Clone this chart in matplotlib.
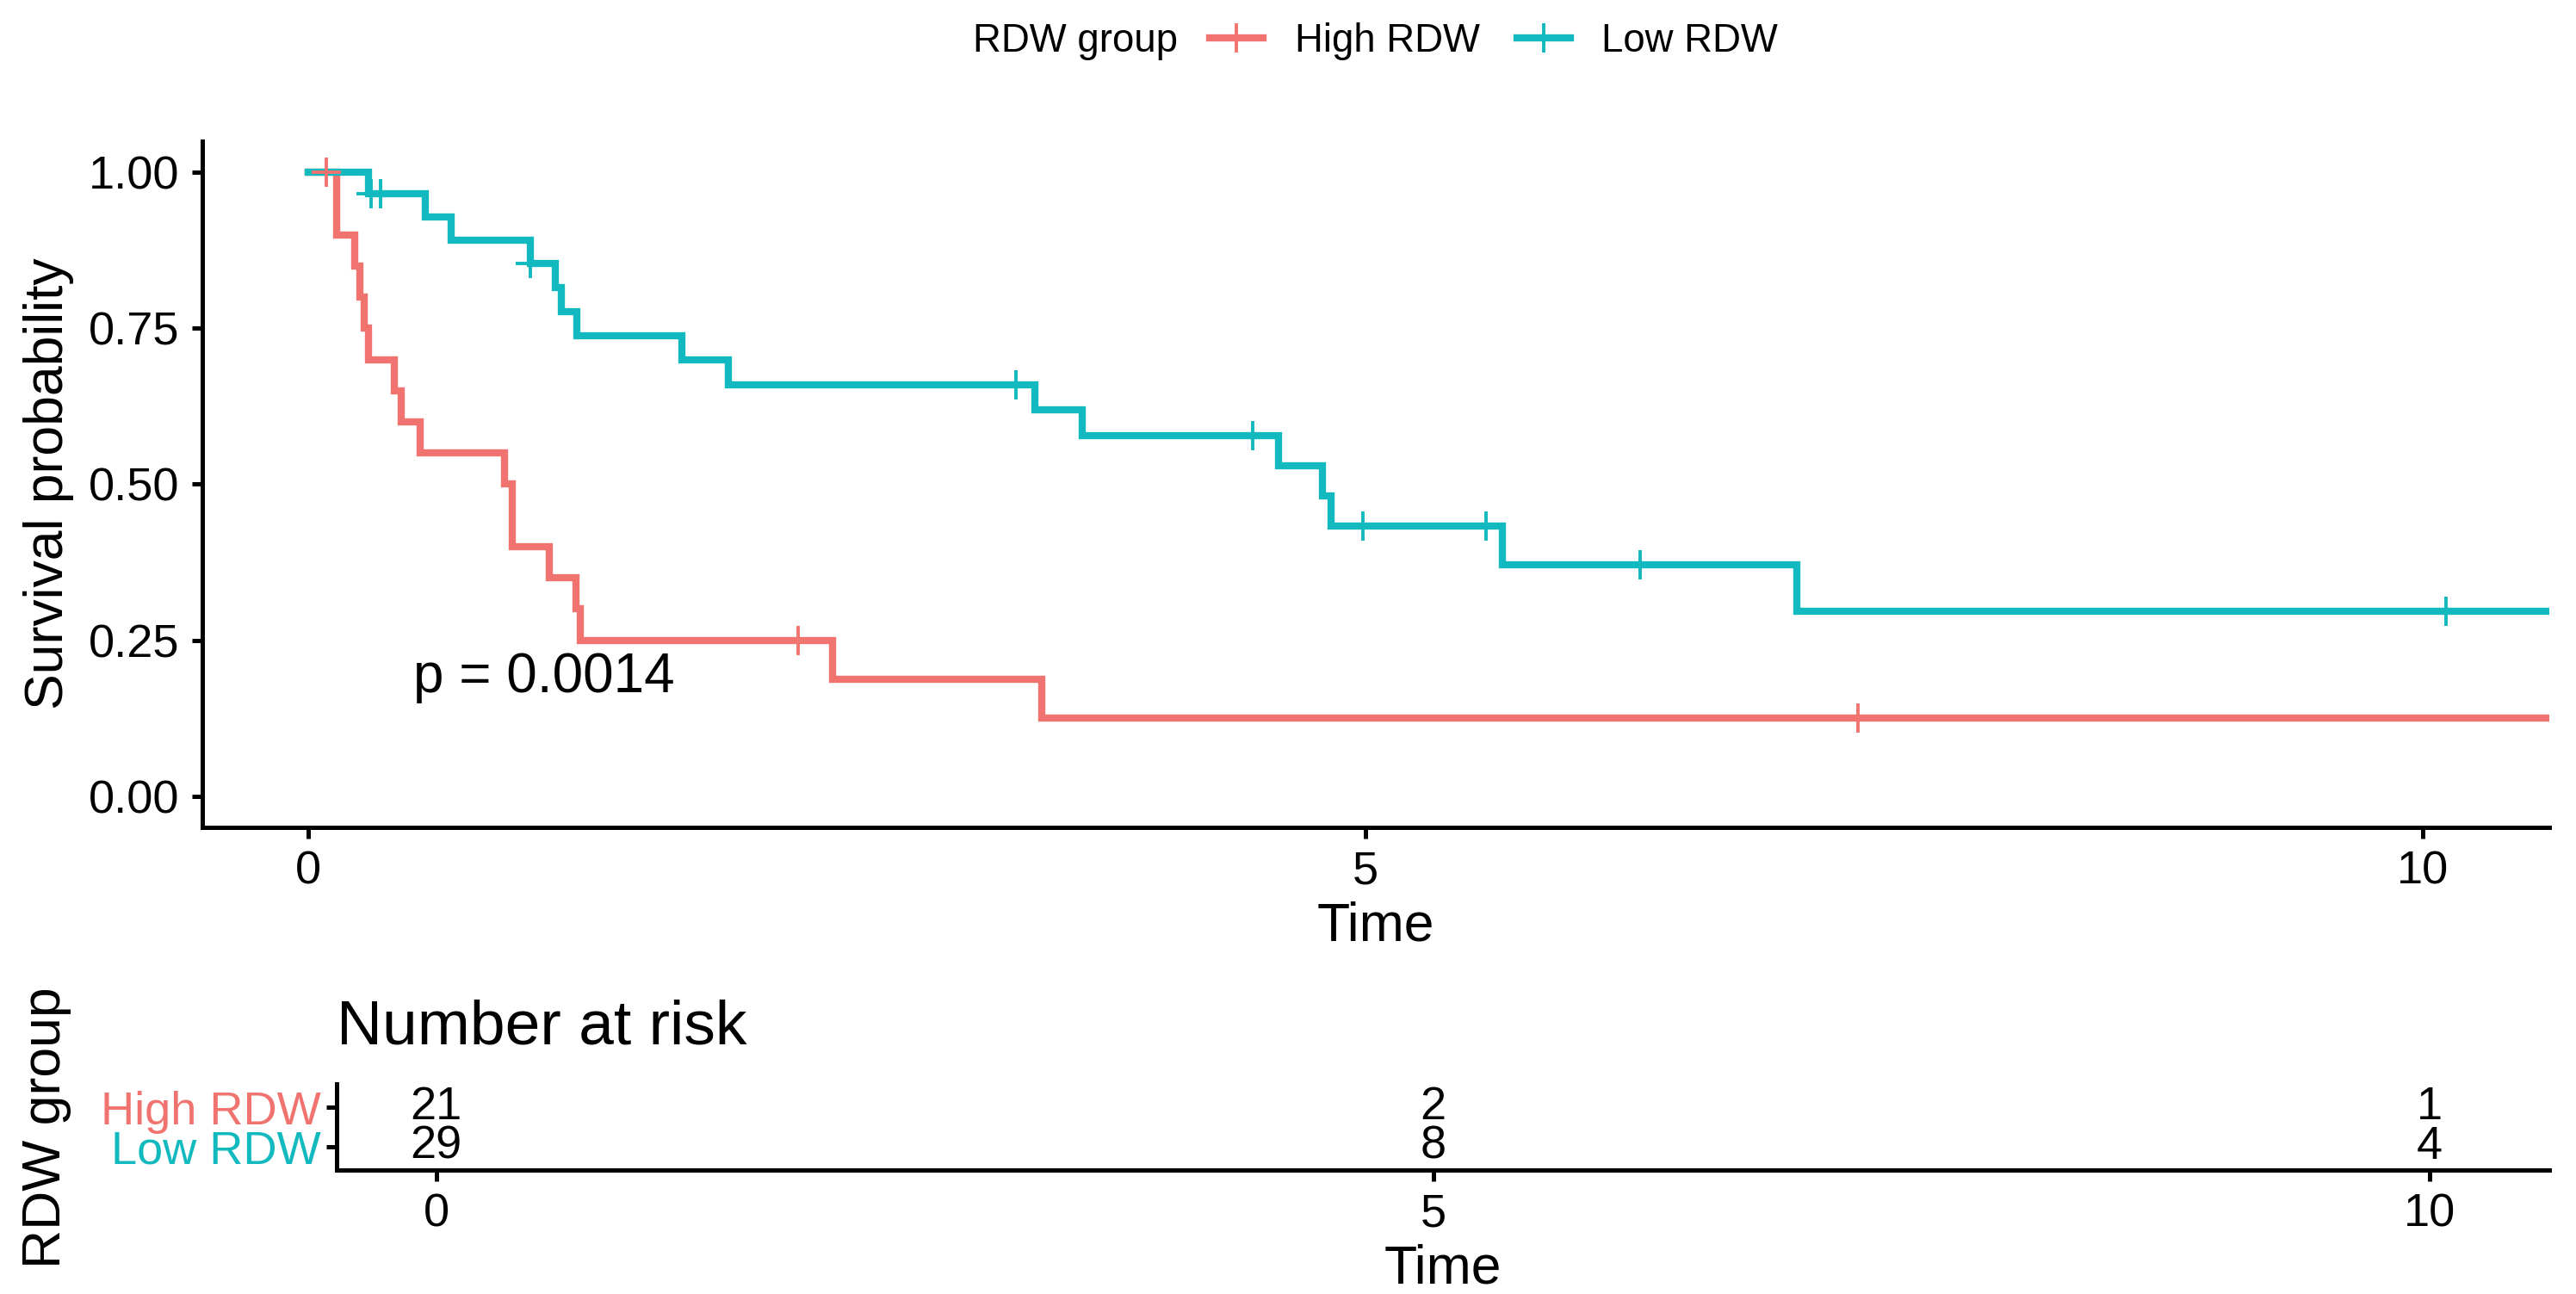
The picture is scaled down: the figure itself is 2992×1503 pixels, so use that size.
import matplotlib
matplotlib.use("Agg")
import matplotlib.pyplot as plt
from matplotlib.lines import Line2D

plt.rcParams['font.family'] = ['Liberation Sans', 'DejaVu Sans']

# colours of the two groups
RED = "#F0736F"
TEAL = "#12B9BE"

# Kaplan-Meier steps
high_time = [0, 0.134, 0.222, 0.245, 0.265, 0.285, 0.41, 0.44, 0.53, 0.93, 0.967,
             1.14, 1.266, 1.29, 2.48, 3.47, 10.6]
high_surv = [1.0, 0.90, 0.85, 0.80, 0.75, 0.70, 0.65, 0.60, 0.55, 0.50, 0.40,
             0.35, 0.30, 0.25, 0.1875, 0.125, 0.125]
high_cens_time = [0.085, 2.32, 7.33]
high_cens_surv = [1.0, 0.25, 0.125]

low_time = [0, 0.285, 0.555, 0.677, 1.05, 1.17, 1.20, 1.27, 1.77, 1.99, 3.44, 3.66,
            4.59, 4.80, 4.84, 5.65, 7.04, 10.6]
low_surv = [1.0, 0.9655, 0.9284, 0.8913, 0.8541, 0.8153, 0.7765, 0.7377, 0.6988,
            0.6600, 0.6188, 0.5775, 0.5294, 0.4813, 0.4331, 0.3713, 0.2970, 0.2970]
low_cens_time = [0.30, 0.345, 1.05, 3.35, 4.47, 4.99, 5.57, 6.30, 10.11]
low_cens_surv = [0.9655, 0.9655, 0.8541, 0.6600, 0.5775, 0.4331, 0.4331, 0.3713, 0.2970]

# risk table
risk_times = [0, 5, 10]
risk_high = [21, 2, 1]
risk_low = [29, 8, 4]
groups = ["High RDW", "Low RDW"]

XLIM = (-0.5, 10.6)
LW = 3.0
TICK_FS = 19.5
LABEL_FS = 22.5

fig = plt.figure(figsize=(14.96, 7.515), dpi=200)

# --- survival curves
ax = fig.add_axes([0.0785, 0.3606, 0.9111, 0.5303])
ax.step(high_time, high_surv, where="post", color=RED, lw=LW, solid_joinstyle="miter")
ax.step(low_time, low_surv, where="post", color=TEAL, lw=LW, solid_joinstyle="miter")
ax.plot(high_cens_time, high_cens_surv, "+", color=RED, ms=12, mew=1.4)
ax.plot(low_cens_time, low_cens_surv, "+", color=TEAL, ms=12, mew=1.4)
ax.text(0.5, 0.19, "p = 0.0014", fontsize=23, ha="left", va="center")

ax.set_xlim(*XLIM)
ax.set_ylim(-0.05, 1.05)
ax.set_xticks([0, 5, 10])
ax.set_yticks([0, 0.25, 0.5, 0.75, 1.0])
ax.set_yticklabels(["0.00", "0.25", "0.50", "0.75", "1.00"])
for s in ["top", "right"]:
    ax.spines[s].set_visible(False)
for s in ["left", "bottom"]:
    ax.spines[s].set_linewidth(1.8)
ax.tick_params(labelsize=TICK_FS, width=1.8, length=4.5, pad=5, colors="black")

fig.text(0.534, 0.2841, "Time", fontsize=LABEL_FS, ha="center", va="center")
fig.text(0.019, 0.626, "Survival probability", fontsize=LABEL_FS, rotation=90,
         ha="center", va="center")

# --- legend at top
fig.text(0.3777, 0.968, "RDW group", fontsize=16.4, ha="left", va="center")
handles = [Line2D([], [], color=RED, lw=LW, marker="+", ms=12, mew=1.4),
           Line2D([], [], color=TEAL, lw=LW, marker="+", ms=12, mew=1.4)]
fig.legend(handles, groups, loc="center", bbox_to_anchor=(0.58, 0.968), ncol=2,
           frameon=False, fontsize=16.4, handlelength=1.36, handletextpad=0.8,
           columnspacing=0.95, borderpad=0, borderaxespad=0)

# --- risk table
rax = fig.add_axes([0.1307, 0.0958, 0.8590, 0.0665])
for t, h, l in zip(risk_times, risk_high, risk_low):
    rax.text(t, 2, str(h), fontsize=TICK_FS, ha="center", va="center")
    rax.text(t, 1, str(l), fontsize=TICK_FS, ha="center", va="center")
rax.set_xlim(*XLIM)
rax.set_ylim(0.4, 2.6)
rax.set_xticks([0, 5, 10])
rax.set_yticks([2, 1])
rax.set_yticklabels(groups)
for lab, c in zip(rax.get_yticklabels(), [RED, TEAL]):
    lab.set_color(c)
for s in ["top", "right"]:
    rax.spines[s].set_visible(False)
for s in ["left", "bottom"]:
    rax.spines[s].set_linewidth(1.8)
rax.tick_params(labelsize=TICK_FS, width=1.8, length=4.5, pad=5)
rax.tick_params(axis="y", pad=2)

fig.text(0.1307, 0.2056, "Number at risk", fontsize=26.4, ha="left", va="center")
fig.text(0.5602, 0.0193, "Time", fontsize=LABEL_FS, ha="center", va="center")
fig.text(0.018, 0.1287, "RDW group", fontsize=LABEL_FS, rotation=90,
         ha="center", va="center")

fig.savefig("out.png", dpi=200, facecolor="white")
